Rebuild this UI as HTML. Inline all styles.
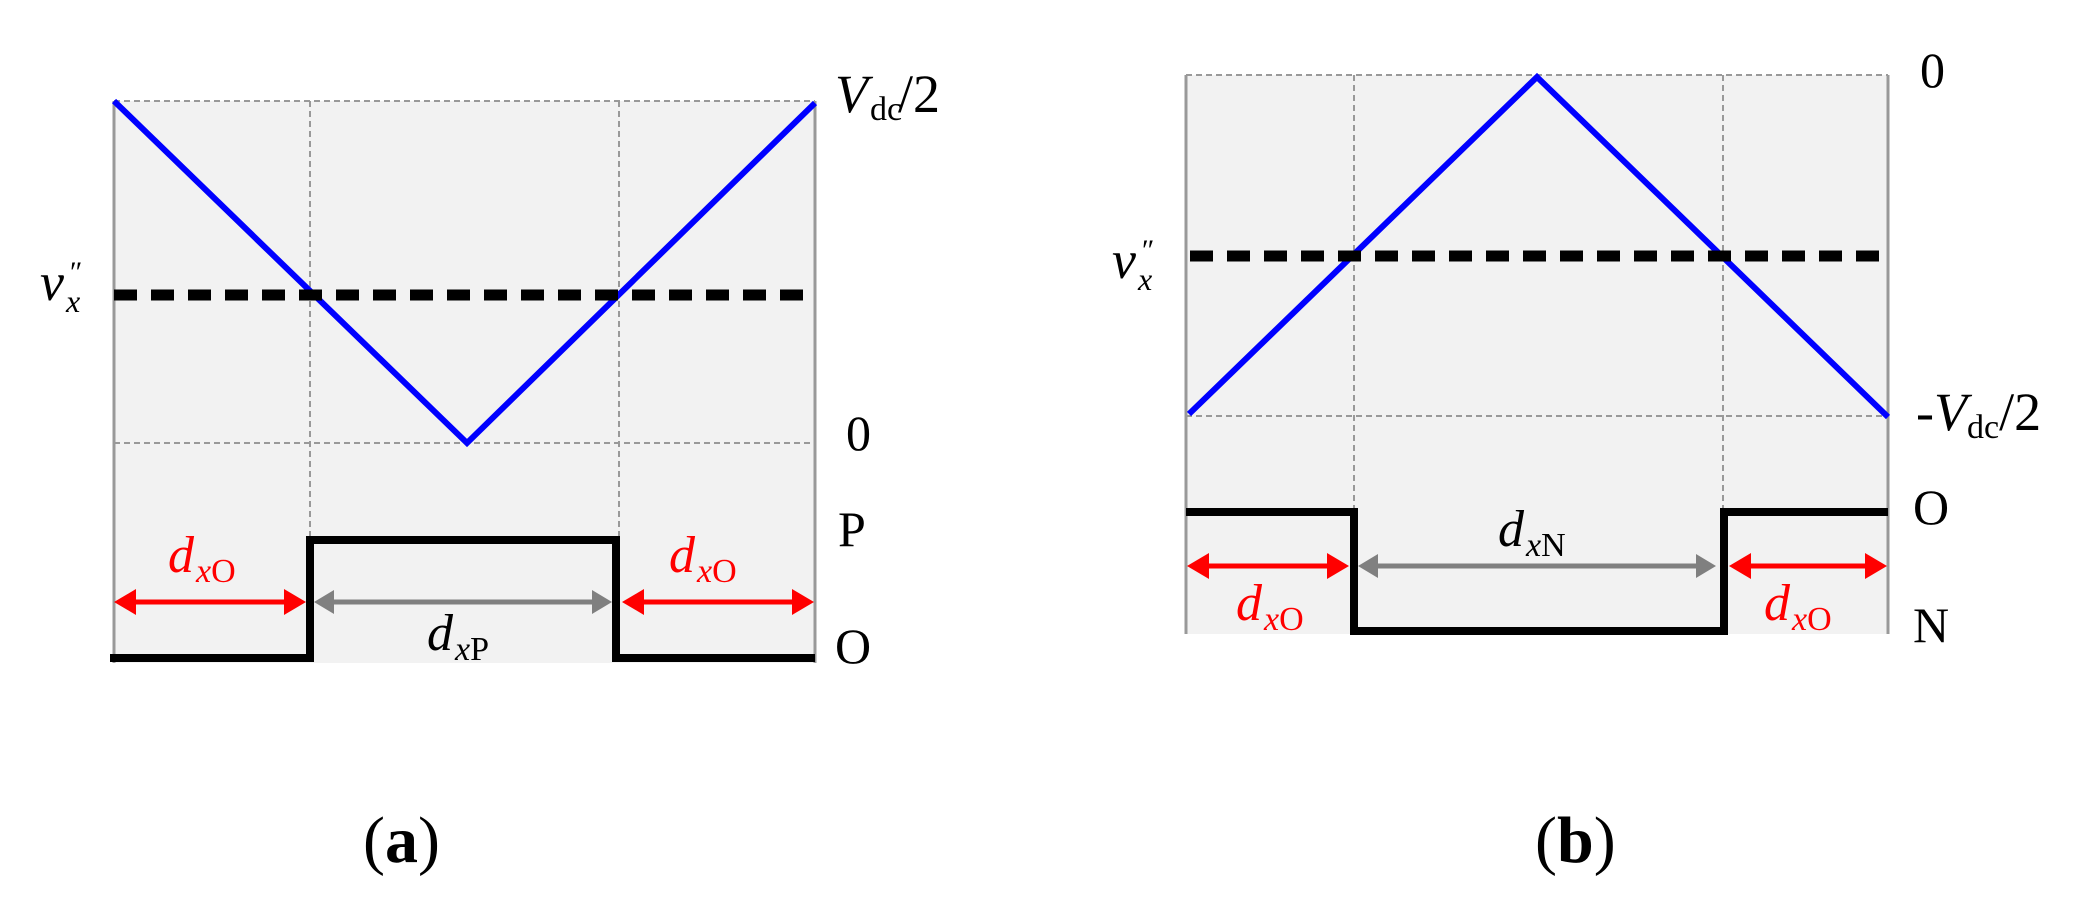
<!DOCTYPE html>
<html><head><meta charset="utf-8"><style>
html,body{margin:0;padding:0;background:#fff}
svg{display:block}
text{font-family:"Liberation Serif",serif}
</style></head><body>
<svg width="2097" height="903" viewBox="0 0 2097 903" xmlns="http://www.w3.org/2000/svg">
<!-- Panel a -->
<rect x="114" y="101" width="701" height="562" fill="#f2f2f2"/>
<g stroke="#999" stroke-width="2" stroke-dasharray="6,4" fill="none">
<line x1="114" y1="101" x2="815" y2="101"/><line x1="114" y1="443" x2="815" y2="443"/>
<line x1="310" y1="101" x2="310" y2="540"/><line x1="619" y1="101" x2="619" y2="540"/>
</g>
<g stroke="#999" stroke-width="3"><line x1="114" y1="101" x2="114" y2="663"/><line x1="815" y1="101" x2="815" y2="663"/></g>
<polyline points="114,101 467,443 815,103" fill="none" stroke="#0000ff" stroke-width="6"/>
<line x1="114" y1="295" x2="815" y2="295" stroke="#000" stroke-width="11" stroke-dasharray="23,14"/>
<polyline points="110,658 310,658 310,540 616,540 616,658 815,658" fill="none" stroke="#000" stroke-width="8"/>
<g fill="#f00" stroke="#f00" stroke-width="5">
<line x1="130" y1="602" x2="294" y2="602"/><polygon stroke="none" points="114,602 136,589 136,615"/><polygon stroke="none" points="306,602 284,589 284,615"/>
<line x1="636" y1="602" x2="800" y2="602"/><polygon stroke="none" points="622,602 644,589 644,615"/><polygon stroke="none" points="814,602 792,589 792,615"/>
</g>
<g fill="#808080" stroke="#808080" stroke-width="5">
<line x1="328" y1="602" x2="598" y2="602"/><polygon stroke="none" points="314,602 334,590 334,614"/><polygon stroke="none" points="612,602 592,590 592,614"/>
</g>
<text x="835" y="112" font-size="54" font-style="italic">V</text><text x="870" y="120" font-size="34">dc</text><text x="898" y="112" font-size="54">/2</text>
<text x="846" y="450" font-size="50">0</text>
<text x="838" y="546" font-size="50">P</text>
<text x="835" y="663" font-size="50">O</text>
<text x="40" y="300" font-size="54" font-style="italic">v</text><text x="66" y="312" font-size="32" font-style="italic">x</text><text x="68" y="282" font-size="30" font-style="italic">″</text>
<text x="168" y="572" font-size="52" font-style="italic" fill="#f00">d</text><text x="196" y="582" font-size="34" fill="#f00"><tspan font-style="italic">x</tspan>O</text>
<text x="669" y="572" font-size="52" font-style="italic" fill="#f00">d</text><text x="697" y="582" font-size="34" fill="#f00"><tspan font-style="italic">x</tspan>O</text>
<text x="427" y="650" font-size="52" font-style="italic">d</text><text x="455" y="660" font-size="34"><tspan font-style="italic">x</tspan>P</text>
<text x="363" y="862" font-size="66">(<tspan font-weight="bold">a</tspan>)</text>
<!-- Panel b -->
<rect x="1186" y="75" width="702" height="559" fill="#f2f2f2"/>
<g stroke="#999" stroke-width="2" stroke-dasharray="6,4" fill="none">
<line x1="1186" y1="75" x2="1888" y2="75"/><line x1="1186" y1="416" x2="1888" y2="416"/>
<line x1="1354" y1="75" x2="1354" y2="512"/><line x1="1723" y1="75" x2="1723" y2="512"/>
</g>
<g stroke="#999" stroke-width="3"><line x1="1186" y1="75" x2="1186" y2="634"/><line x1="1888" y1="75" x2="1888" y2="634"/></g>
<polyline points="1189,414 1537,77 1888,417" fill="none" stroke="#0000ff" stroke-width="6"/>
<line x1="1190" y1="256" x2="1888" y2="256" stroke="#000" stroke-width="11" stroke-dasharray="23,14"/>
<polyline points="1186,512 1354,512 1354,631 1724,631 1724,512 1888,512" fill="none" stroke="#000" stroke-width="8"/>
<g fill="#f00" stroke="#f00" stroke-width="5">
<line x1="1202" y1="566" x2="1334" y2="566"/><polygon stroke="none" points="1187,566 1209,553 1209,579"/><polygon stroke="none" points="1349,566 1327,553 1327,579"/>
<line x1="1744" y1="566" x2="1872" y2="566"/><polygon stroke="none" points="1729,566 1751,553 1751,579"/><polygon stroke="none" points="1887,566 1865,553 1865,579"/>
</g>
<g fill="#808080" stroke="#808080" stroke-width="5">
<line x1="1372" y1="566" x2="1702" y2="566"/><polygon stroke="none" points="1358,566 1378,554 1378,578"/><polygon stroke="none" points="1716,566 1696,554 1696,578"/>
</g>
<text x="1920" y="87" font-size="50">0</text>
<text x="1916" y="430" font-size="54">-<tspan font-style="italic">V</tspan><tspan font-size="34" dy="8">dc</tspan><tspan dy="-8">/2</tspan></text>
<text x="1913" y="524" font-size="50">O</text>
<text x="1913" y="642" font-size="50">N</text>
<text x="1112" y="278" font-size="54" font-style="italic">v</text><text x="1138" y="290" font-size="32" font-style="italic">x</text><text x="1140" y="260" font-size="30" font-style="italic">″</text>
<text x="1498" y="546" font-size="52" font-style="italic">d</text><text x="1526" y="556" font-size="34"><tspan font-style="italic">x</tspan>N</text>
<text x="1236" y="620" font-size="52" font-style="italic" fill="#f00">d</text><text x="1264" y="630" font-size="34" fill="#f00"><tspan font-style="italic">x</tspan>O</text>
<text x="1764" y="620" font-size="52" font-style="italic" fill="#f00">d</text><text x="1792" y="630" font-size="34" fill="#f00"><tspan font-style="italic">x</tspan>O</text>
<text x="1535" y="862" font-size="66">(<tspan font-weight="bold">b</tspan>)</text>
</svg>
</body></html>
